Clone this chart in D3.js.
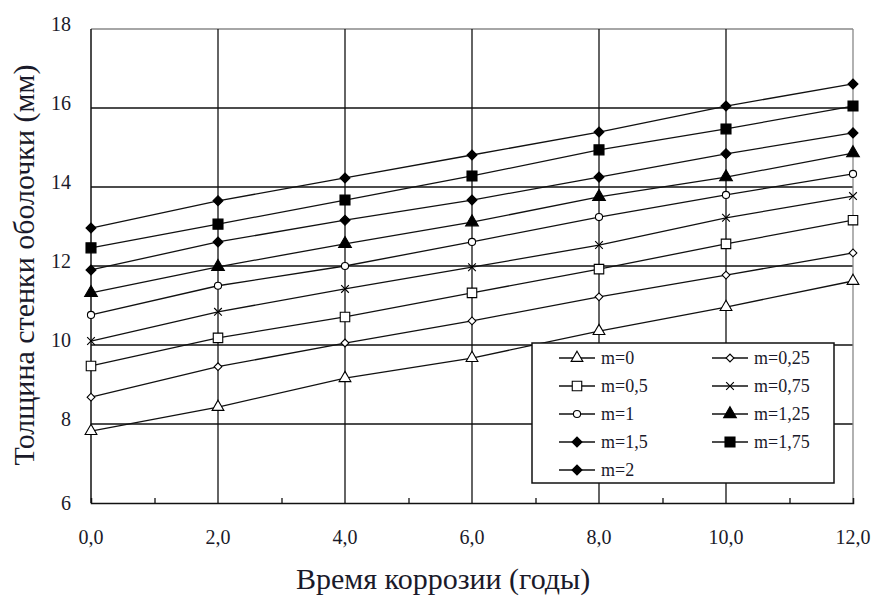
<!DOCTYPE html>
<html>
<head>
<meta charset="utf-8">
<script src="https://cdn.jsdelivr.net/npm/d3@7"></script>
<style>
  body { margin: 0; background: #fff; }
</style>
</head>
<body>
<div id="graf"></div>
<script>
const years = [0, 2, 4, 6, 8, 10, 12]
const seriesNames = ['m=0', 'm=0,25', 'm=0,5', 'm=0,75', 'm=1', 'm=1,25', 'm=1,5', 'm=1,75', 'm=2']
const m0 = [7.82, 8.43, 9.16, 9.67, 10.35, 10.96, 11.62]
const m025 = [8.68, 9.45, 10.05, 10.61, 11.22, 11.77, 12.33]
const m05 = [9.47, 10.18, 10.71, 11.32, 11.92, 12.56, 13.16]
const m075 = [10.1, 10.84, 11.42, 11.97, 12.53, 13.22, 13.77]
const m1 = [10.76, 11.5, 12.0, 12.61, 13.24, 13.8, 14.33]
const m125 = [11.32, 11.98, 12.56, 13.11, 13.75, 14.25, 14.86]
const m15 = [11.9, 12.61, 13.16, 13.67, 14.25, 14.84, 15.37]
const m175 = [12.46, 13.06, 13.67, 14.28, 14.94, 15.47, 16.05]
const m2 = [12.96, 13.65, 14.23, 14.81, 15.39, 16.05, 16.61]
const yTicks = [6, 8, 10, 12, 14, 16, 18]
const xTicks = [0, 2, 4, 6, 8, 10, 12]

const allValues = [m0, m025, m05, m075, m1, m125, m15, m175, m2]
const fuente = '"Liberation Serif"'
const tinta = '#1a1a2a'

// marker per series: symbol type, filled?, size, rotation
const markers = [
  { type: d3.symbolTriangle, fill: false, size: 60, rot: 0 },
  { type: d3.symbolSquare, fill: false, size: 30, rot: 45 },
  { type: d3.symbolSquare, fill: false, size: 90, rot: 0 },
  { type: d3.symbolTimes, fill: false, size: 40, rot: 0 },
  { type: d3.symbolCircle, fill: false, size: 40, rot: 0 },
  { type: d3.symbolTriangle, fill: true, size: 70, rot: 0 },
  { type: d3.symbolSquare, fill: true, size: 50, rot: 45 },
  { type: d3.symbolSquare, fill: true, size: 100, rot: 0 },
  { type: d3.symbolSquare, fill: true, size: 50, rot: 45 },
]

const anchoTotal = 874
const altoTotal = 596
const margin = { top: 29, bottom: 93, left: 91, right: 21 }
const ancho = anchoTotal - margin.left - margin.right
const alto = altoTotal - margin.top - margin.bottom

const svg = d3.select('#graf')
  .append('svg')
  .attr('width', anchoTotal)
  .attr('height', altoTotal)

const g = svg.append('g')
  .attr('transform', `translate(${margin.left}, ${margin.top})`)

const x = d3.scaleLinear().domain([0, 12]).range([0, ancho])
const y = d3.scaleLinear().domain([6, 18]).range([alto, 0])

// rejilla
g.selectAll('.hgrid')
  .data(yTicks.slice(1))
  .join('line')
  .attr('x1', 0).attr('x2', ancho)
  .attr('y1', d => y(d)).attr('y2', d => y(d))
  .attr('stroke', d => d === 18 ? '#888' : '#111')
  .attr('stroke-width', 1.3)

g.selectAll('.vgrid')
  .data(xTicks.slice(1))
  .join('line')
  .attr('x1', d => x(d)).attr('x2', d => x(d))
  .attr('y1', 0).attr('y2', alto)
  .attr('stroke', d => d === 12 ? '#888' : '#111')
  .attr('stroke-width', 1.3)

// ejes
const xAxis = g.append('g')
  .attr('transform', `translate(0, ${alto})`)
  .call(d3.axisBottom(x).tickValues(d3.range(1, 12, 2)).tickSize(-5).tickFormat(''))
xAxis.select('.domain').attr('stroke', '#111').attr('stroke-width', 1.5)
xAxis.selectAll('.tick line').attr('stroke', '#111').attr('stroke-width', 1.3)

g.append('line')
  .attr('x1', 0).attr('x2', 0).attr('y1', 0).attr('y2', alto)
  .attr('stroke', '#111').attr('stroke-width', 1.5)

g.selectAll('.ylab')
  .data(yTicks)
  .join('text')
  .attr('x', -20)
  .attr('y', d => y(d) + (d === 6 ? 7 : 2))
  .attr('text-anchor', 'end')
  .attr('font-size', 20)
  .attr('fill', tinta)
  .style('font-family', fuente)
  .text(d => d)

g.selectAll('.xlab')
  .data(xTicks)
  .join('text')
  .attr('x', d => x(d))
  .attr('y', alto + 41)
  .attr('text-anchor', 'middle')
  .attr('font-size', 20)
  .attr('fill', tinta)
  .style('font-family', fuente)
  .text(d => d3.format('.1f')(d).replace('.', ','))

// series
const line = d3.line()
  .x((d, i) => x(years[i]))
  .y(d => y(d))

allValues.forEach(vals => {
  g.append('path')
    .datum(vals)
    .attr('d', line)
    .attr('fill', 'none')
    .attr('stroke', '#111')
    .attr('stroke-width', 1.3)
})

allValues.forEach((vals, k) => {
  const mk = markers[k]
  g.selectAll(null)
    .data(vals)
    .join('path')
    .attr('transform', (d, i) => `translate(${x(years[i])}, ${y(d)}) rotate(${mk.rot})`)
    .attr('d', d3.symbol().type(mk.type).size(mk.size))
    .attr('fill', mk.fill ? '#000' : '#fff')
    .attr('stroke', '#000')
    .attr('stroke-width', 1.1)
})

// leyenda
const leg = svg.append('g').attr('transform', 'translate(532, 343)')
leg.append('rect')
  .attr('width', 302).attr('height', 140)
  .attr('fill', '#fff').attr('stroke', '#111').attr('stroke-width', 1.5)

const legItems = leg.selectAll('.item')
  .data(seriesNames)
  .join('g')
  .attr('transform', (d, i) => `translate(${27 + (i % 2) * 153}, ${15 + Math.floor(i / 2) * 28})`)

legItems.append('line')
  .attr('x1', 0).attr('x2', 36)
  .attr('stroke', '#111').attr('stroke-width', 1.3)

legItems.append('path')
  .attr('transform', (d, i) => `translate(18, 0) rotate(${markers[i].rot})`)
  .attr('d', (d, i) => d3.symbol().type(markers[i].type).size(markers[i].size)())
  .attr('fill', (d, i) => markers[i].fill ? '#000' : '#fff')
  .attr('stroke', '#000')
  .attr('stroke-width', 1.1)

legItems.append('text')
  .attr('x', 42)
  .attr('y', 6)
  .attr('font-size', 18)
  .attr('fill', tinta)
  .style('font-family', fuente)
  .text(d => d)

// titulos
svg.append('text')
  .attr('x', 296)
  .attr('y', 589)
  .attr('font-size', 30)
  .attr('fill', tinta)
  .style('font-family', fuente)
  .text('Время коррозии (годы)')

svg.append('text')
  .attr('transform', 'translate(34, 265) rotate(-90)')
  .attr('text-anchor', 'middle')
  .attr('font-size', 30)
  .attr('fill', tinta)
  .style('font-family', fuente)
  .text('Толщина стенки оболочки (мм)')
</script>
</body>
</html>
